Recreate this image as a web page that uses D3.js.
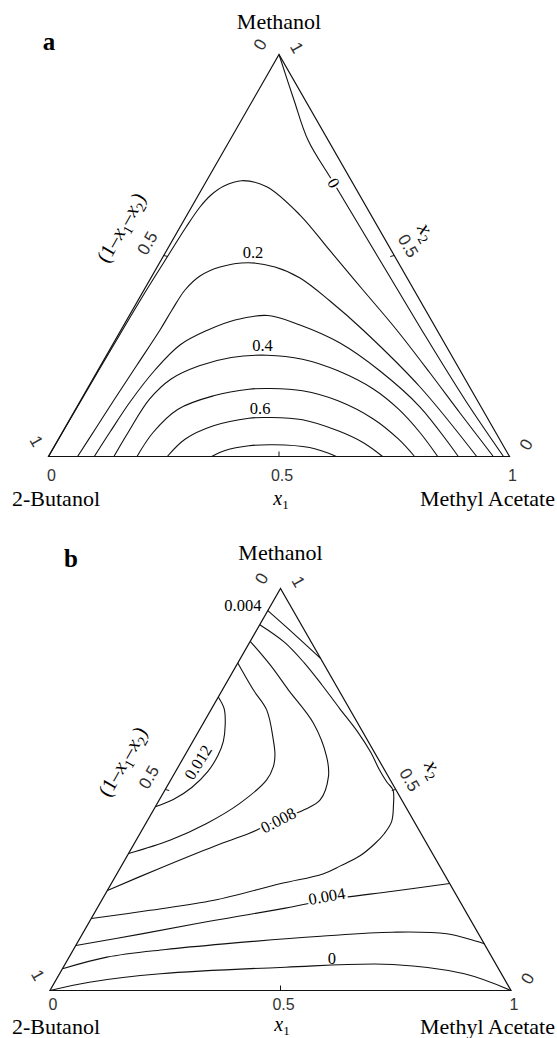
<!DOCTYPE html>
<html>
<head>
<meta charset="utf-8">
<script src="https://cdn.jsdelivr.net/npm/d3@7"></script>
<style>
  body { margin: 0; background: #fff; }
  svg { display: block; }
</style>
</head>
<body>
<svg id="chart" width="557" height="1038"></svg>
<script>
// Compositions are [x1, x2]: x1 = methyl acetate, x2 = methanol,
// 2-butanol = 1 - x1 - x2.
const axisTicks = [0, 0.5, 1];
const vertexTop = "Methanol";
const vertexLeft = "2-Butanol";
const vertexRight = "Methyl Acetate";

// ---- panel (a) contour lines ----
const levelsA = [0, 0.1, 0.2, 0.3, 0.4, 0.5, 0.6, 0.7];
const a00 = [[0,1],[0.0891,0.8868],[0.1692,0.7873],[0.2785,0.6803],[0.4666,0.4963],[0.6522,0.3147],[0.8328,0.1413],[0.987,0]];
const a01 = [[0,0],[0.0011,0.1406],[0.0032,0.3147],[0.0055,0.4142],[0.0098,0.5062],[0.0131,0.5709],[0.0183,0.6207],[0.0273,0.6505],[0.0443,0.6729],[0.0761,0.6861],[0.1377,0.6712],[0.2452,0.6007],[0.3547,0.5119],[0.4751,0.4142],[0.598,0.3147],[0.7237,0.2077],[0.8385,0.1082],[0.9649,0]];
const a02 = [[0.0631,0],[0.0676,0.0709],[0.0718,0.1406],[0.0782,0.2276],[0.0845,0.3147],[0.0857,0.3644],[0.089,0.4142],[0.1041,0.449],[0.1363,0.4714],[0.1924,0.4821],[0.2556,0.4714],[0.3236,0.444],[0.4172,0.3868],[0.5249,0.3147],[0.7195,0.1729],[0.9289,0]];
const a03 = [[0.0993,0],[0.103,0.0609],[0.109,0.1356],[0.1234,0.2152],[0.1465,0.2774],[0.1886,0.3147],[0.2348,0.3396],[0.3007,0.3507],[0.382,0.3271],[0.4912,0.2823],[0.6128,0.2127],[0.7444,0.1231],[0.8889,0]];
const a04 = [[0.1419,0],[0.1428,0.0597],[0.1478,0.1425],[0.1691,0.1923],[0.2143,0.2256],[0.2733,0.2463],[0.3478,0.252],[0.43,0.242],[0.5214,0.2132],[0.6217,0.1674],[0.7006,0.1177],[0.7758,0.0597],[0.8443,0]];
const a05 = [[0.192,0],[0.1969,0.0597],[0.2221,0.1177],[0.2824,0.151],[0.3512,0.1674],[0.397,0.1692],[0.4693,0.1634],[0.5587,0.1386],[0.659,0.0928],[0.7379,0.043],[0.7941,0]];
const a06 = [[0.2577,0],[0.2746,0.043],[0.3197,0.0764],[0.3873,0.0953],[0.4292,0.097],[0.5054,0.0913],[0.5961,0.0639],[0.6648,0.0348],[0.7247,0]];
const a07 = [[0.354,0],[0.3755,0.0149],[0.4216,0.0266],[0.4747,0.0291],[0.5552,0.0224],[0.5942,0.0112],[0.6243,0]];
const curvesA = [a00, a01, a02, a03, a04, a05, a06, a07];

// labelled levels of panel (a): value, spot [x1, x2], text angle
const labelValuesA = [0, 0.2, 0.4, 0.6];
const labelSpotsA = [[0.2785,0.6803],[0.189,0.509],[0.3255,0.2774],[0.399,0.12]];
const labelAnglesA = [60, 0, 0, 0];
const labelHaloA = [true, false, false, false];

// ---- panel (b) contour lines ----
const levelsB = [0, 0.002, 0.004, 0.004, 0.006, 0.008, 0.010, 0.012];
const b000 = [[0,0],[0.075,0.0207],[0.219,0.0416],[0.482,0.058],[0.711,0.0648],[0.878,0.0416],[1,0]];
const b002 = [[0,0.054],[0.082,0.083],[0.2,0.102],[0.32,0.116],[0.52,0.135],[0.67,0.145],[0.79,0.141],[0.8835,0.1165]];
const b004low = [[0,0.112],[0.131,0.1414],[0.268,0.174],[0.408,0.205],[0.482,0.224],[0.62,0.247],[0.734,0.266]];
const b004top = [[0,0.945],[0.0835,0.8886],[0.1736,0.8264]];
const b006 = [[0,0.91],[0.076,0.866],[0.144,0.815],[0.21,0.76],[0.277,0.702],[0.345,0.644],[0.40,0.592],[0.44,0.549],[0.472,0.518],[0.4945,0.499],[0.515,0.46],[0.531,0.42],[0.53,0.39],[0.522,0.365],[0.505,0.335],[0.475,0.31],[0.447,0.29],[0.368,0.266],[0.2435,0.2244],[0.117,0.1995],[0,0.179]];
const b008 = [[0,0.8686],[0.072,0.8105],[0.143,0.748],[0.239,0.665],[0.309,0.582],[0.338,0.532],[0.349,0.474],[0.3257,0.4489],[0.2826,0.424],[0.238,0.3915],[0.1782,0.3595],[0.0865,0.3042],[0,0.249]];
const b010 = [[0,0.8147],[0.067,0.748],[0.121,0.698],[0.173,0.623],[0.195,0.586],[0.206,0.557],[0.208,0.524],[0.179,0.4656],[0.132,0.4157],[0.073,0.374],[0,0.341]];
const b012 = [[0,0.73],[0.028,0.70],[0.05,0.66],[0.066,0.62],[0.072,0.585],[0.07,0.545],[0.055,0.505],[0.03,0.475],[0,0.457]];
const curvesB = [b000, b002, b004low, b004top, b006, b008, b010, b012];

const labelValuesB = [0.004, 0.012, 0.008, 0.004, 0];
const labelSpotsB = [[-0.061,0.959],[0.037,0.568],[0.283,0.424],[0.483,0.235],[0.571,0.081]];
const labelAnglesB = [0, -58, -27, -10, 0];
const labelHaloB = [false, false, true, true, false];

// ---- drawing ----
const SERIF = "'Liberation Serif', 'Times New Roman', serif";
const SANS = "'Liberation Sans', Arial, sans-serif";
const SIDE = 461, HEIGHT = 402;
const svg = d3.select("#chart");

function drawPanel(cfg) {
  const sx = d3.scaleLinear().domain([0, 1]).range([cfg.left, cfg.left + SIDE]);
  const sy = d3.scaleLinear().domain([0, 1]).range([cfg.top + HEIGHT, cfg.top]);
  const proj = d => [sx(d[0] + d[1] / 2), sy(d[1])];
  const g = svg.append("g");

  // contour lines
  const line = d3.line()
    .x(d => proj(d)[0]).y(d => proj(d)[1])
    .curve(d3.curveCatmullRom.alpha(0.5));
  g.append("g").selectAll("path").data(cfg.curves).join("path")
    .attr("d", line)
    .attr("fill", "none").attr("stroke", "#111").attr("stroke-width", 1.1);

  // triangle frame
  const corners = [[0, 0], [1, 0], [0, 1]];
  g.append("path")
    .attr("d", "M" + corners.map(c => proj(c).join(",")).join("L") + "Z")
    .attr("fill", "none").attr("stroke", "#111").attr("stroke-width", 1.2);

  // tick marks at 0.5 on each side
  const mb = proj([0.5, 0]), ml = proj([0, 0.5]), mr = proj([0.5, 0.5]);
  g.append("line").attr("x1", mb[0]).attr("y1", mb[1]).attr("x2", mb[0]).attr("y2", mb[1] - 5);
  g.append("line").attr("x1", ml[0]).attr("y1", ml[1]).attr("x2", ml[0] + 4).attr("y2", ml[1] + 1);
  g.append("line").attr("x1", mr[0]).attr("y1", mr[1]).attr("x2", mr[0] - 4).attr("y2", mr[1] + 1);
  g.selectAll("line").attr("stroke", "#111").attr("stroke-width", 1);

  // contour value labels
  cfg.labelValues.forEach((v, i) => {
    const p = proj(cfg.labelSpots[i]);
    const t = g.append("text")
      .attr("transform", `translate(${p[0]},${p[1]}) rotate(${cfg.labelAngles[i]})`)
      .attr("text-anchor", "middle").attr("dy", "0.35em")
      .attr("font-family", SERIF).attr("font-size", 16.5).attr("fill", "#000")
      .text(String(v));
    if (cfg.labelHalo[i]) {
      t.attr("stroke", "#fff").attr("stroke-width", 4).attr("paint-order", "stroke");
    }
  });

  // bottom axis tick labels (x1)
  g.append("g").selectAll("text").data(axisTicks).join("text")
    .attr("x", d => sx(d) + 3).attr("y", cfg.tickY)
    .attr("text-anchor", "middle")
    .attr("font-family", SANS).attr("font-size", 16).attr("fill", "#333")
    .text(d => String(d));

  // rotated tick labels on the two slanted sides
  const tickText = (pt, dx, dy, ang, s) => g.append("text")
    .attr("transform", `translate(${pt[0] + dx},${pt[1] + dy}) rotate(${ang})`)
    .attr("text-anchor", "middle").attr("dy", "0.35em")
    .attr("font-family", SANS).attr("font-size", 17).attr("fill", "#333")
    .text(s);
  const apex = proj([0, 1]), bl = proj([0, 0]), br = proj([1, 0]);
  // left side: 1 - x1 - x2
  tickText(apex, -19, -10, -60, String(axisTicks[0]));
  tickText(ml, -16.5, -12.5, -60, String(axisTicks[1]));
  tickText(bl, -12, -15.5, 60, String(axisTicks[2]));
  // right side: x2
  tickText(apex, 18, -7, 60, String(axisTicks[2]));
  tickText(mr, 14, -9.7, 60, String(axisTicks[1]));
  tickText(br, 16.5, -12, -60, String(axisTicks[0]));

  // axis titles
  const left = g.append("text")
    .attr("transform", `translate(${ml[0] - 43},${ml[1] - 28}) rotate(-60)`)
    .attr("text-anchor", "middle").attr("dy", "0.35em")
    .attr("font-family", SERIF).attr("font-size", 20.5).attr("fill", "#000");
  left.append("tspan").text("(1–");
  left.append("tspan").attr("font-style", "italic").text("x");
  left.append("tspan").attr("font-size", 14).attr("dy", 5).text("1");
  left.append("tspan").attr("dy", -5).text("–");
  left.append("tspan").attr("font-style", "italic").text("x");
  left.append("tspan").attr("font-size", 14).attr("dy", 5).text("2");
  left.append("tspan").attr("dy", -5).text(")");

  const right = g.append("text")
    .attr("transform", `translate(${mr[0] + cfg.x2dx},${mr[1] + cfg.x2dy}) rotate(60)`)
    .attr("text-anchor", "middle").attr("dy", "0.35em")
    .attr("font-family", SERIF).attr("font-size", 21).attr("fill", "#000");
  right.append("tspan").attr("font-style", "italic").text("x");
  right.append("tspan").attr("font-size", 14).attr("dy", 5).text("2");

  const bottom = g.append("text")
    .attr("x", cfg.x1x).attr("y", cfg.x1Y)
    .attr("text-anchor", "middle")
    .attr("font-family", SERIF).attr("font-size", 20).attr("fill", "#000");
  bottom.append("tspan").attr("font-style", "italic").text("x");
  bottom.append("tspan").attr("font-size", 13).attr("dy", 3.5).text("1");

  // vertex names and panel letter
  g.append("text").attr("x", apex[0]).attr("y", cfg.topNameY)
    .attr("text-anchor", "middle").attr("font-family", SERIF).attr("font-size", 22)
    .text(vertexTop);
  g.append("text").attr("x", 12).attr("y", cfg.nameY)
    .attr("font-family", SERIF).attr("font-size", 22).text(vertexLeft);
  g.append("text").attr("x", 555).attr("y", cfg.nameY)
    .attr("text-anchor", "end").attr("font-family", SERIF).attr("font-size", 22).text(vertexRight);
  g.append("text").attr("x", cfg.letterX).attr("y", cfg.letterY)
    .attr("text-anchor", "middle").attr("font-family", SERIF).attr("font-size", 25)
    .attr("font-weight", "bold").text(cfg.letter);
}

drawPanel({
  left: 48.5, top: 54.5, curves: curvesA,
  labelValues: labelValuesA, labelSpots: labelSpotsA, labelAngles: labelAnglesA, labelHalo: labelHaloA,
  topNameY: 29, nameY: 505.5, x1Y: 505, tickY: 481, x1x: 281,
  letter: "a", letterX: 49, letterY: 50, x2dx: 33, x2dy: -24
});
drawPanel({
  left: 50, top: 588.5, curves: curvesB,
  labelValues: labelValuesB, labelSpots: labelSpotsB, labelAngles: labelAnglesB, labelHalo: labelHaloB,
  topNameY: 560, nameY: 1033.5, x1Y: 1031, tickY: 1009.5, x1x: 282,
  letter: "b", letterX: 71, letterY: 567, x2dx: 38.5, x2dy: -21
});
</script>
</body>
</html>
